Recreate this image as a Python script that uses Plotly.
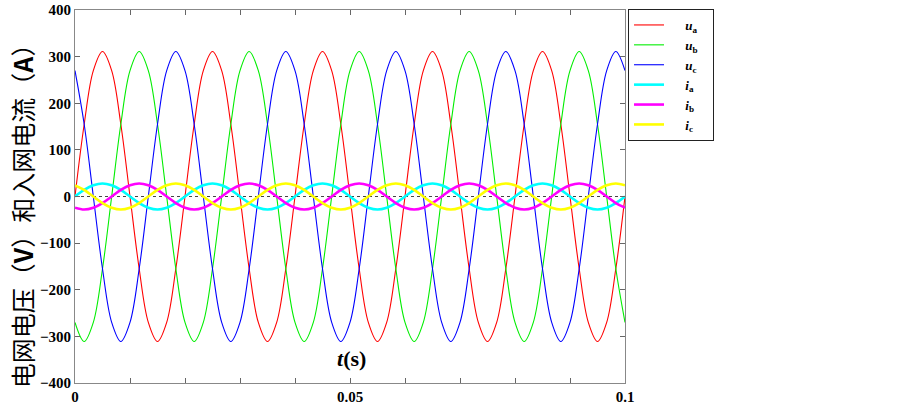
import plotly.graph_objects as go

# sample times (s), every 1/600 s
t = [0, 0.00167, 0.00333, 0.005, 0.00667, 0.00833, 0.01, 0.01167, 0.01333, 0.015, 0.01667, 0.01833,
     0.02, 0.02167, 0.02333, 0.025, 0.02667, 0.02833, 0.03, 0.03167, 0.03333, 0.035, 0.03667, 0.03833,
     0.04, 0.04167, 0.04333, 0.045, 0.04667, 0.04833, 0.05, 0.05167, 0.05333, 0.055, 0.05667, 0.05833,
     0.06, 0.06167, 0.06333, 0.065, 0.06667, 0.06833, 0.07, 0.07167, 0.07333, 0.075, 0.07667, 0.07833,
     0.08, 0.08167, 0.08333, 0.085, 0.08667, 0.08833, 0.09, 0.09167, 0.09333, 0.095, 0.09667, 0.09833,
     0.1]

ua = [0, 155, 270, 311, 270, 155, 0, -155, -270, -311, -270, -155,
      0, 155, 270, 311, 270, 155, 0, -155, -270, -311, -270, -155,
      0, 155, 270, 311, 270, 155, 0, -155, -270, -311, -270, -155,
      0, 155, 270, 311, 270, 155, 0, -155, -270, -311, -270, -155,
      0, 155, 270, 311, 270, 155, 0, -155, -270, -311, -270, -155,
      0]
ub = [-270, -311, -270, -155, 0, 155, 270, 311, 270, 155, 0, -155,
      -270, -311, -270, -155, 0, 155, 270, 311, 270, 155, 0, -155,
      -270, -311, -270, -155, 0, 155, 270, 311, 270, 155, 0, -155,
      -270, -311, -270, -155, 0, 155, 270, 311, 270, 155, 0, -155,
      -270, -311, -270, -155, 0, 155, 270, 311, 270, 155, 0, -155,
      -270]
uc = [270, 155, 0, -155, -270, -311, -270, -155, 0, 155, 270, 311,
      270, 155, 0, -155, -270, -311, -270, -155, 0, 155, 270, 311,
      270, 155, 0, -155, -270, -311, -270, -155, 0, 155, 270, 311,
      270, 155, 0, -155, -270, -311, -270, -155, 0, 155, 270, 311,
      270, 155, 0, -155, -270, -311, -270, -155, 0, 155, 270, 311,
      270]
ia = [0, 14, 24, 28, 24, 14, 0, -14, -24, -28, -24, -14,
      0, 14, 24, 28, 24, 14, 0, -14, -24, -28, -24, -14,
      0, 14, 24, 28, 24, 14, 0, -14, -24, -28, -24, -14,
      0, 14, 24, 28, 24, 14, 0, -14, -24, -28, -24, -14,
      0, 14, 24, 28, 24, 14, 0, -14, -24, -28, -24, -14,
      0]
ib = [-24, -28, -24, -14, 0, 14, 24, 28, 24, 14, 0, -14,
      -24, -28, -24, -14, 0, 14, 24, 28, 24, 14, 0, -14,
      -24, -28, -24, -14, 0, 14, 24, 28, 24, 14, 0, -14,
      -24, -28, -24, -14, 0, 14, 24, 28, 24, 14, 0, -14,
      -24, -28, -24, -14, 0, 14, 24, 28, 24, 14, 0, -14,
      -24]
ic = [24, 14, 0, -14, -24, -28, -24, -14, 0, 14, 24, 28,
      24, 14, 0, -14, -24, -28, -24, -14, 0, 14, 24, 28,
      24, 14, 0, -14, -24, -28, -24, -14, 0, 14, 24, 28,
      24, 14, 0, -14, -24, -28, -24, -14, 0, 14, 24, 28,
      24, 14, 0, -14, -24, -28, -24, -14, 0, 14, 24, 28,
      24]

x_tick_vals = [0, 0.05, 0.1]
x_tick_text = ["0", "0.05", "0.1"]
y_tick_vals = [-400, -300, -200, -100, 0, 100, 200, 300, 400]

series = [
    ("u", "a", ua, "#ff0000", 1.1),
    ("u", "b", ub, "#00ee00", 1.1),
    ("u", "c", uc, "#0000ff", 1.1),
    ("i", "a", ia, "#00ffff", 2.6),
    ("i", "b", ib, "#ff00ff", 2.6),
    ("i", "c", ic, "#ffff00", 2.6),
]

SERIF = "Liberation Serif, Times New Roman, serif"
NB = "\u00a0"

fig = go.Figure()
for sym, sub, vals, col, w in series:
    fig.add_trace(go.Scatter(
        x=t, y=vals, mode="lines",
        line=dict(color=col, width=w, shape="spline", smoothing=1.0),
        name=NB * 5 + "<b><i>" + sym + "</i></b><sub><b>" + sub + "</b></sub>" + NB * 3,
    ))

fig.add_hline(y=0, line=dict(color="#444444", width=1, dash="dot"), layer="below")

tickfont = dict(family=SERIF, size=15, color="black", weight="bold")
fig.update_xaxes(
    range=[0, 0.1], tickvals=x_tick_vals, ticktext=x_tick_text,
    ticks="inside", ticklen=5, tickcolor="#666666", tickwidth=1,
    minor=dict(dtick=0.01, tick0=0, ticks="inside", ticklen=5, tickcolor="#666666", showgrid=False),
    showline=True, linecolor="#888888", linewidth=1, mirror="ticks",
    showgrid=False, zeroline=False, tickfont=tickfont, automargin=False,
    ticklabeloverflow="allow",
)
fig.update_yaxes(
    range=[-400, 400], tickvals=y_tick_vals,
    ticks="inside", ticklen=5, tickcolor="#666666", tickwidth=1,
    showline=True, linecolor="#888888", linewidth=1, mirror="ticks",
    showgrid=False, zeroline=False, tickfont=tickfont, automargin=False,
    ticklabeloverflow="allow",
)

fig.add_annotation(
    text="电网电压（<b>V</b>）和入网电流（<b>A</b>）", textangle=-90,
    xref="paper", yref="paper", x=-0.0964, y=0.466, xanchor="center", yanchor="middle",
    showarrow=False, font=dict(family="Noto Sans CJK SC", size=25, color="black"),
)
fig.add_annotation(
    text="<b><i>t</i>(s)</b>",
    xref="paper", yref="paper", x=0.502, y=0.067, xanchor="center", yanchor="middle",
    showarrow=False, font=dict(family=SERIF, size=22, color="black"),
)

fig.update_layout(
    width=903, height=406,
    margin=dict(l=75, r=278, t=10, b=23, autoexpand=False),
    paper_bgcolor="white", plot_bgcolor="white",
    legend=dict(
        x=1.0055, y=1.0027, xanchor="left", yanchor="top",
        bgcolor="white", bordercolor="#222222", borderwidth=1,
        font=dict(family=SERIF, size=13, color="black"),
        tracegroupgap=0, itemwidth=30,
    ),
)

fig.write_html("out.html", config={"displayModeBar": False},
               post_script="document.body.style.margin='0px';")
